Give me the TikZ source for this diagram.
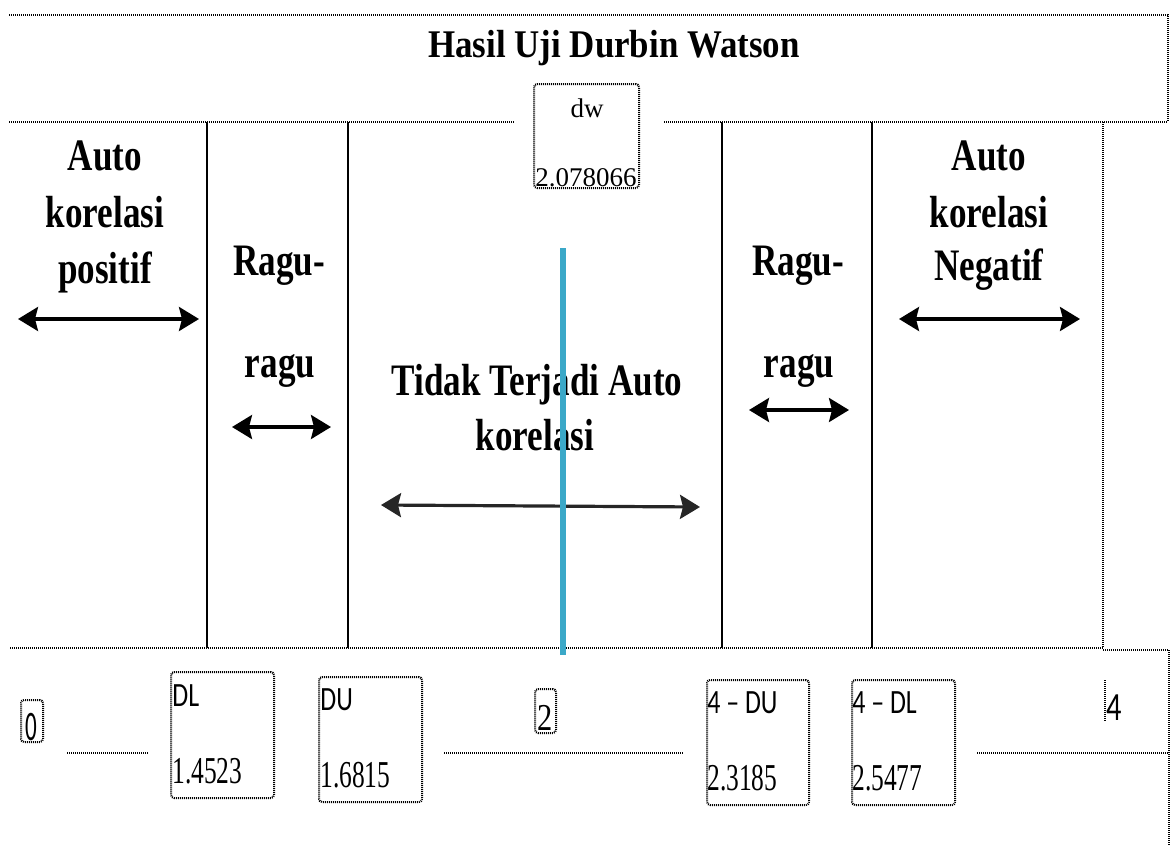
\documentclass[tikz,border=0pt]{standalone}
\usepackage{fontspec}
\setmainfont{Liberation Serif}
\newfontfamily\titlef[FakeStretch=0.89]{Liberation Serif}
\newfontfamily\bodyf[FakeStretch=0.78]{Liberation Serif}
\newfontfamily\numf[FakeStretch=0.67]{Liberation Serif}
\newfontfamily\twof[FakeStretch=0.8]{Liberation Serif}
\newfontfamily\sanscf[FakeStretch=0.76]{Carlito}
\newfontfamily\zerof[FakeStretch=0.55]{Carlito}
\usetikzlibrary{arrows.meta}
\definecolor{dwblue}{RGB}{59,168,200}
\tikzset{
  dotline/.style={line width=1pt, dash pattern=on 0.5pt off 0.5pt},
  solidline/.style={line width=0.9pt},
  dbl/.style={line width=1.6pt, {Stealth[length=10pt,width=12pt,inset=1.5pt]}-{Stealth[length=10pt,width=12pt,inset=1.5pt]}},
  bodytext/.style={inner sep=0pt, anchor=base, font=\bodyf\bfseries\fontsize{22.5}{28}\selectfont},
  titletext/.style={inner sep=0pt, anchor=base, font=\titlef\bfseries\fontsize{19.6}{24}\selectfont},
  dwtext/.style={inner sep=0pt, font=\fontsize{13.5}{16}\selectfont},
  labtext/.style={inner sep=0pt, anchor=base west, font=\sanscf\fontsize{17}{20}\selectfont},
  numtext/.style={inner sep=0pt, anchor=base west, font=\numf\fontsize{19}{22}\selectfont},
  dotbox/.style={draw, dotline, rounded corners=1.5pt, inner sep=0pt},
}
\begin{document}
\begin{tikzpicture}[x=0.5pt, y=-0.5pt]
\useasboundingbox (0,0) rectangle (1176,846);

% frame lines
\draw[dotline] (9,15) -- (1168,15) -- (1168,122);
\draw[dotline] (9,122) -- (514,122);
\draw[dotline] (664,122) -- (1168,122);
\draw[dotline] (1103,122) -- (1103,648);
\draw[dotline] (10,648) -- (1103,648);
\draw[dotline] (1103,650) -- (1169,650) -- (1169,846);
\foreach \x in {207,348,722,872} \draw[solidline] (\x,122) -- (\x,648);

% number-line segments
\draw[dotline] (67,753) -- (148,753);
\draw[dotline] (444,753) -- (683,753);
\draw[dotline] (977,753) -- (1169,753);

% title
\node[titletext] (title) at (614,57) {Hasil Uji Durbin Watson};

% dw box
\node[dotbox, minimum width=52.5pt, minimum height=52pt] (dwbox) at (586.5,136) {};
\node[dwtext, anchor=base] (dwlab) at (587,117) {dw};
\node[dwtext, anchor=base west] (dwval) at (535,186) {2.078066};

% region texts
\node[bodytext] (ap1) at (105,170) {Auto};
\node[bodytext] (ap2) at (105,227) {korelasi};
\node[bodytext] (ap3) at (105,283) {positif};
\node[bodytext] (rl1) at (279,275) {Ragu-};
\node[bodytext] (rl2) at (280,377) {ragu};
\node[bodytext] (tt1) at (537,395) {Tidak Terjadi Auto};
\node[bodytext] (tt2) at (535,450) {korelasi};
\node[bodytext] (rr1) at (798,275) {Ragu-};
\node[bodytext] (rr2) at (799,377) {ragu};
\node[bodytext] (an1) at (989,170) {Auto};
\node[bodytext] (an2) at (989,227) {korelasi};
\node[bodytext] (an3) at (989,280) {Negatif};

% arrows
\coordinate (pa) at (18,319);  \coordinate (pb) at (199,319);
\coordinate (ra) at (232,427); \coordinate (rb) at (331,427);
\coordinate (ma) at (381,505); \coordinate (mb) at (700,507);
\coordinate (sa) at (749,410); \coordinate (sb) at (849,410);
\coordinate (na) at (899,319); \coordinate (nb) at (1080,319);
\draw[dbl] (pa) -- (pb);
\draw[dbl] (ra) -- (rb);
\draw[dbl, black!85] (ma) -- (mb);
\draw[dbl] (sa) -- (sb);
\draw[dbl] (na) -- (nb);

% blue dw line
\coordinate (bt) at (563,248); \coordinate (bb) at (563,655);
\draw[dwblue, line width=3pt] (bt) -- (bb);

% bottom labels
\node[dotbox, minimum width=11pt, minimum height=21pt] (zbox) at (32,721) {};
\node[inner sep=0pt, anchor=base west, font=\zerof\fontsize{21}{24}\selectfont] (zero) at (25,740) {0};

\node[dotbox, minimum width=51.5pt, minimum height=63pt] (dlbox) at (222.5,735) {};
\node[labtext] (dllab) at (172,706) {DL};
\node[numtext] (dlval) at (172,783) {1.4523};

\node[dotbox, minimum width=51.5pt, minimum height=62.5pt] (dubox) at (370.5,739.5) {};
\node[labtext] (dulab) at (320,710) {DU};
\node[numtext] (duval) at (320,787) {1.6815};

\node[dotbox, minimum width=10.5pt, minimum height=22pt] (twobox) at (545.5,711) {};
\node[inner sep=0pt, anchor=base west, font=\twof\fontsize{19}{24}\selectfont] (two) at (537,730) {2};

\node[dotbox, minimum width=51pt, minimum height=62.5pt] (udbox) at (758,742.5) {};
\node[labtext] (udlab) at (707,713) {4 – DU};
\node[numtext] (udval) at (707,790) {2.3185};

\node[dotbox, minimum width=51.5pt, minimum height=62.5pt] (ldbox) at (903.5,742.5) {};
\node[labtext] (ldlab) at (852,713) {4 – DL};
\node[numtext] (ldval) at (852,790) {2.5477};

\coordinate (fa) at (1105,680); \coordinate (fb) at (1105,722);
\draw[dotline] (fa) -- (fb);
\node[inner sep=0pt, anchor=base west, font=\sanscf\fontsize{20}{24}\selectfont] (four) at (1106,720) {4};
\end{tikzpicture}
\end{document}
